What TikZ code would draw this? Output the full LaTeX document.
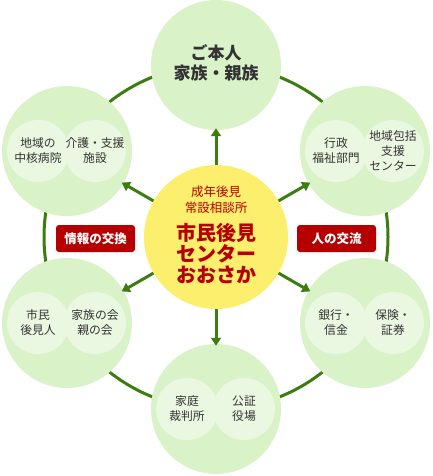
\documentclass[tikz,border=0pt]{standalone}
\usepackage{fontspec}
\setmainfont{Noto Sans CJK JP}
\usetikzlibrary{arrows.meta}
\definecolor{ogreen}{HTML}{D9F2C7}
\definecolor{igreen}{HTML}{EBF8E1}
\definecolor{cyel}{HTML}{FCEF6D}
\definecolor{lgreen}{HTML}{3C7D10}
\definecolor{cred}{HTML}{B40000}
\definecolor{ctext}{HTML}{333333}
\begin{document}
\begin{tikzpicture}[x=1pt,y=-1pt,
  outer/.style={circle,fill=ogreen,minimum size=130pt,inner sep=0pt},
  inner/.style={circle,fill=igreen,minimum size=62pt,inner sep=0pt},
  subtext/.style={align=center,text=ctext,font=\fontsize{11.8}{15}\selectfont},
  conn/.style={draw=lgreen,line width=3pt,shorten >=-2pt,-{Triangle[width=10pt,length=8pt]}},
  tag/.style={fill=cred,rounded corners=3pt,text=white,font=\fontsize{12.5}{14}\selectfont\bfseries,minimum width=79pt,minimum height=27pt,inner sep=0pt}]
\useasboundingbox (0,0) rectangle (432,476);
\coordinate (C) at (216,237);
\draw[lgreen,line width=3pt] (C) circle (172pt);
% outer circles
\node[outer] (top) at (216,65) {};
\node[outer] (ur) at (365,151) {};
\node[outer] (lr) at (365,323) {};
\node[outer] (bot) at (216,409) {};
\node[outer] (ll) at (67,323) {};
\node[outer] (ul) at (67,151) {};
% inner circles
\foreach \n/\x/\y in {ur/365/151,lr/365/323,bot/216/409,ll/67/323,ul/67/151}{
  \node[inner] (\n-a) at (\x-29,\y) {};
  \node[inner] (\n-b) at (\x+28,\y) {};
}
% center
\node[circle,fill=cyel,minimum size=144pt,inner sep=0pt] (cen) at (C) {};
% texts
\node[align=center,text=ctext,font=\fontsize{17}{20.5}\selectfont\bfseries] (ttop) at (216,63) {ご本人\\家族・親族};
\node[align=center,text=cred,font=\fontsize{12.5}{15.5}\selectfont] (tsub) at (216,199.5) {成年後見\\常設相談所};
\node[align=center,text=cred,font=\fontsize{20}{21}\selectfont\bfseries] (tmain) at (216,254) {市民後見\\センター\\おおさか};
\node[subtext] (t1) at (ul-a) {地域の\\中核病院};
\node[subtext] (t2) at (ul-b) {介護・支援\\施設};
\node[subtext] (t3) at (ur-a) {行政\\福祉部門};
\node[subtext] (t4) at (ur-b) {地域包括\\支援\\センター};
\node[subtext] (t5) at (lr-a) {銀行・\\信金};
\node[subtext] (t6) at (lr-b) {保険・\\証券};
\node[subtext] (t7) at (bot-a) {家庭\\裁判所};
\node[subtext] (t8) at (bot-b) {公証\\役場};
\node[subtext] (t9) at (ll-a) {市民\\後見人};
\node[subtext] (t10) at (ll-b) {家族の会\\親の会};
% arrows
\foreach \n in {top,ur,lr,bot,ll,ul}{
  \draw[conn] (cen) -- (\n);
}
% tags
\node[tag] (tagl) at (95.5,238.5) {情報の交換};
\node[tag] (tagr) at (336.5,238.5) {人の交流};
\end{tikzpicture}
\end{document}
